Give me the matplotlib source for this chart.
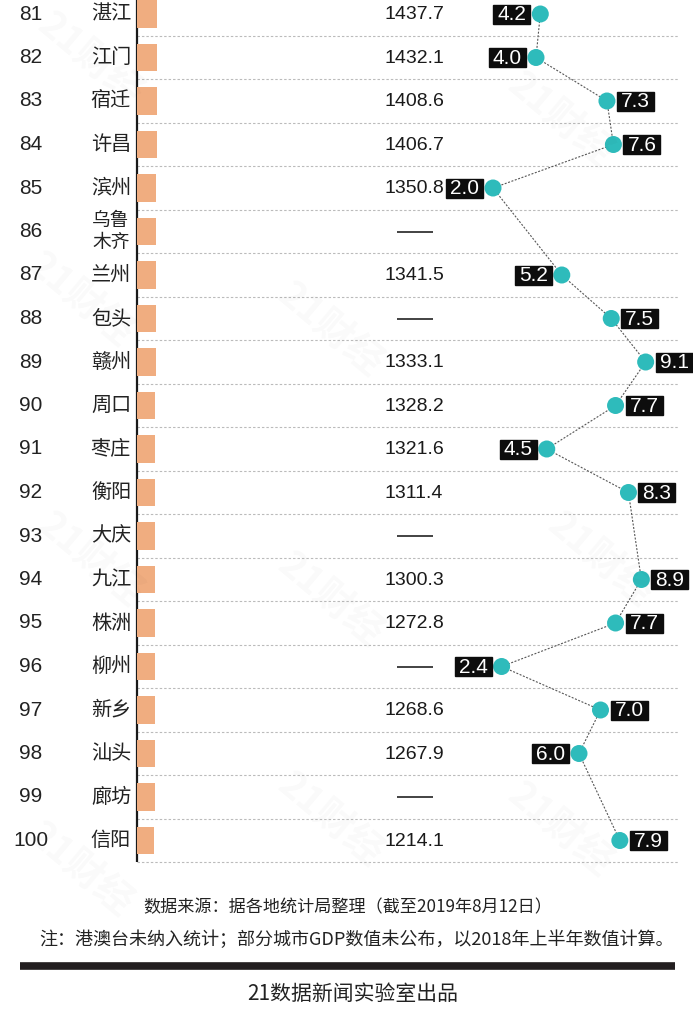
import matplotlib.pyplot as plt
from matplotlib.patches import Rectangle
import numpy as np

plt.rcParams['font.family'] = ['Liberation Sans', 'Noto Sans CJK SC']

ranks = list(range(81, 101))
cities = ['湛江', '江门', '宿迁', '许昌', '滨州', '乌鲁\n木齐', '兰州', '包头', '赣州', '周口',
          '枣庄', '衡阳', '大庆', '九江', '株洲', '柳州', '新乡', '汕头', '廊坊', '信阳']
# GDP (亿元), None = not published
gdp = [1437.7, 1432.1, 1408.6, 1406.7, 1350.8, None, 1341.5, None, 1333.1, 1328.2,
       1321.6, 1311.4, None, 1300.3, 1272.8, None, 1268.6, 1267.9, None, 1214.1]
# bar lengths (missing ones)
bar_vals = [1437.7, 1432.1, 1408.6, 1406.7, 1350.8, 1340, 1341.5, 1335, 1333.1, 1328.2,
            1321.6, 1311.4, 1320, 1300.3, 1272.8, 1290, 1268.6, 1267.9, 1260, 1214.1]
growth = [4.2, 4.0, 7.3, 7.6, 2.0, None, 5.2, 7.5, 9.1, 7.7,
          4.5, 8.3, None, 8.9, 7.7, 2.4, 7.0, 6.0, None, 7.9]

W, H = 693, 1024
fig = plt.figure(figsize=(W / 100, H / 100), dpi=100)
fig.patch.set_facecolor('white')

row_px = 43.5
r_top = 81 - 14 / row_px
r_bot = 81 + (880 - 14) / row_px


def px_axes(x0, y0, x1, y1):
    a = fig.add_axes([x0 / W, 1 - y1 / H, (x1 - x0) / W, (y1 - y0) / H])
    a.set_ylim(r_bot, r_top)
    a.axis('off')
    return a


# layout axes (x in pixels, y in rank)
ax = px_axes(0, 0, W, 880)
ax.set_xlim(0, W)

# faint watermarks
for wx, wy in [(90, 60), (330, 330), (560, 120), (600, 560), (330, 600), (80, 300),
               (90, 560), (330, 820), (560, 830), (80, 870)]:
    fig.text(wx / W, 1 - wy / H, '21财经', rotation=-40, fontsize=28, color='#000000',
             alpha=0.025, ha='center', va='center', fontweight='bold',
             family=['Noto Sans CJK SC'])

# row separators and axis line
ax.hlines([r + 0.5 for r in ranks], 137, 678, colors='#bbbbbb', lw=0.8,
          linestyles=(0, (2.2, 1.8)))
ax.vlines(137, r_top, 100.5, colors='#1a1a1a', lw=1.6, zorder=5)

for r, c, g in zip(ranks, cities, gdp):
    ax.text(31, r, str(r), ha='center', va='center', fontsize=15, color='#222222')
    if '\n' in c:
        ax.text(111, r, c, ha='center', va='center', fontsize=13.5, color='#222222',
                linespacing=1.05, family=['Noto Sans CJK SC'])
    else:
        ax.text(111, r, c, ha='center', va='center', fontsize=14.5, color='#222222',
                family=['Noto Sans CJK SC'])
    if g is None:
        ax.hlines(r, 397, 433, colors='#222222', lw=1.2)
    else:
        ax.text(414, r + 0.02, f'{g:.1f}', ha='center', va='center', fontsize=14,
                color='#1a1a1a')

# bars
axb = px_axes(137, 0, 237, 880)
axb.set_xlim(0, 100 * 1437.7 / 20)
axb.barh(ranks, bar_vals, height=0.64, color='#f0ad80')

# growth dots
x0, k = 450, 21.5
axd = px_axes(x0, 0, W, 880)
axd.set_xlim(0, (W - x0) / k)
gr = [(r, g) for r, g in zip(ranks, growth) if g is not None]
gr_r = [p[0] for p in gr]
gr_v = [p[1] for p in gr]
axd.plot(gr_v, gr_r, color='#555555', lw=0.8, ls=(0, (1.8, 1.4)), zorder=2)
axd.scatter(gr_v, gr_r, s=150, color='#2ebbbb', zorder=3, edgecolors='none')

bw, bh, gap = 37 / k, 19 / row_px, 10 / k
for r, v in gr:
    if v < 6.5:
        bx = v - gap - bw
    else:
        bx = v + gap
    axd.add_patch(Rectangle((bx, r - bh / 2), bw, bh, color='#0d0d0d', zorder=4,
                            clip_on=False))
    axd.text(bx + bw / 2, r + 0.02, f'{v:.1f}', ha='center', va='center', color='white',
             fontsize=15, zorder=5)

# footer
fig.text(348 / W, 1 - 907 / H, '数据来源：据各地统计局整理（截至2019年8月12日）',
         ha='center', va='center', fontsize=12.3, color='#222222',
         family=['Noto Sans CJK SC'])
fig.text(356 / W, 1 - 940 / H,
         '注：港澳台未纳入统计；部分城市GDP数值未公布，以2018年上半年数值计算。',
         ha='center', va='center', fontsize=13, color='#222222',
         family=['Noto Sans CJK SC'])
fig.add_artist(plt.Line2D([20 / W, 675 / W], [1 - 966 / H, 1 - 966 / H],
                          color='#231f20', lw=5.5, solid_capstyle='butt'))
fig.text(353 / W, 1 - 994 / H, '21数据新闻实验室出品', ha='center', va='center',
         fontsize=15, color='#222222', family=['Noto Sans CJK SC'])

fig.savefig('out.png', dpi=100, facecolor='white')
